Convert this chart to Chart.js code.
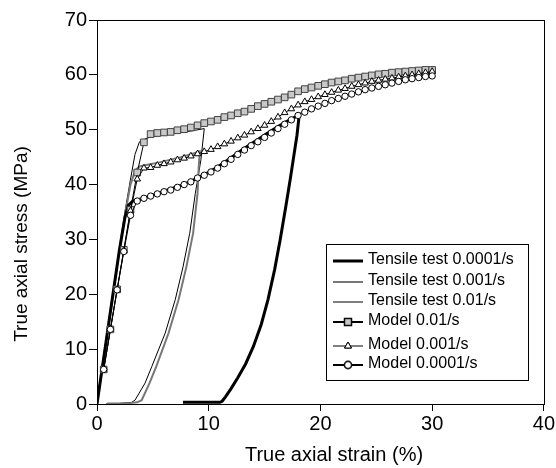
<!DOCTYPE html>
<html>
<head>
<meta charset="utf-8">
<script src="https://cdn.jsdelivr.net/npm/chart.js@4.4.1/dist/chart.umd.min.js"></script>
<style>
html, body { margin: 0; padding: 0; background: #fff; }
</style>
</head>
<body>
<canvas id="stressChart" width="556" height="468"></canvas>
<script>
// Model curves (markers every 0.6 % strain)
var modelStrain = [
  0.6, 1.2, 1.8, 2.4, 3.0, 3.6, 4.2, 4.8, 5.4, 6.0,
  6.6, 7.2, 7.8, 8.4, 9.0, 9.6, 10.2, 10.8, 11.4, 12.0,
  12.6, 13.2, 13.8, 14.4, 15.0, 15.6, 16.2, 16.8, 17.4, 18.0,
  18.6, 19.2, 19.8, 20.4, 21.0, 21.6, 22.2, 22.8, 23.4, 24.0,
  24.6, 25.2, 25.8, 26.4, 27.0, 27.6, 28.2, 28.8, 29.4, 30.0
];
var model001Stress = [
  6.3, 13.6, 20.9, 28.1, 35.4, 42.2, 47.7, 49.2, 49.4, 49.5,
  49.6, 49.9, 50.1, 50.4, 50.8, 51.2, 51.5, 51.8, 52.3, 52.6,
  53.0, 53.3, 53.8, 54.3, 54.7, 55.1, 55.5, 55.9, 56.4, 57.0,
  57.4, 57.7, 58.0, 58.3, 58.6, 58.8, 59.0, 59.3, 59.5, 59.7,
  59.9, 60.1, 60.2, 60.4, 60.5, 60.6, 60.7, 60.8, 60.9, 60.9
];
var model0001Stress = [
  6.3, 13.6, 20.8, 28.0, 35.2, 41.0, 43.0, 43.1, 43.5, 43.8,
  44.1, 44.5, 44.8, 45.2, 45.6, 46.0, 46.4, 46.9, 47.4, 47.9,
  48.5, 49.0, 49.6, 50.2, 50.8, 51.5, 52.3, 53.1, 53.8, 54.5,
  55.1, 55.5, 56.0, 56.4, 56.8, 57.2, 57.5, 57.9, 58.2, 58.5,
  58.8, 59.0, 59.2, 59.4, 59.6, 59.8, 60.0, 60.2, 60.4, 60.6
];
var model00001Stress = [
  6.3, 13.6, 20.8, 27.8, 34.4, 37.0, 37.5, 37.9, 38.3, 38.7,
  39.0, 39.5, 40.0, 40.5, 41.2, 41.7, 42.3, 43.0, 43.8, 44.6,
  45.5, 46.3, 47.1, 47.8, 48.6, 49.4, 50.2, 51.0, 51.8, 52.6,
  53.2, 53.8, 54.3, 54.8, 55.3, 55.7, 56.1, 56.5, 56.9, 57.3,
  57.6, 57.9, 58.2, 58.5, 58.8, 59.1, 59.3, 59.5, 59.7, 59.8
];

// Tensile tests (load, unload, recovery at zero stress)
var test00001Strain = [0, 0.5, 1.0, 1.5, 2.0, 2.5, 2.8, 3.2, 3.6, 4.8, 6.0, 7.2, 8.4, 9.6, 10.8, 12.0, 13.2, 14.4, 15.6, 16.8, 18.1,
  17.9, 17.6, 17.3, 16.9, 16.4, 15.9, 15.3, 14.7, 14.0, 13.3, 12.6, 12.0, 11.5, 11.2, 11.0, 9.0, 7.7];
var test00001Stress = [0, 7.0, 14.0, 21.0, 28.0, 34.0, 36.2, 37.0, 37.2, 37.9, 38.8, 39.6, 40.6, 41.8, 43.2, 44.9, 46.6, 48.2, 49.8, 51.3, 52.7,
  49.0, 45.0, 41.0, 36.0, 30.0, 24.5, 19.0, 14.5, 10.5, 7.3, 4.8, 2.8, 1.3, 0.5, 0.3, 0.3, 0.3];

var test0001Strain = [0, 0.5, 1.0, 1.5, 2.0, 2.5, 3.0, 3.4, 3.8, 4.5, 5.5, 6.5, 7.5, 8.5, 9.2,
  9.1, 9.0, 8.6, 8.0, 7.3, 6.4, 5.3, 4.7, 4.0, 3.6, 3.0, 2.0, 0.9];
var test0001Stress = [0, 7.0, 14.0, 21.0, 28.0, 34.5, 40.0, 42.5, 43.3, 43.6, 44.0, 44.5, 45.0, 45.6, 46.1,
  43.0, 38.4, 31.1, 25.0, 19.0, 12.9, 6.8, 3.8, 0.7, 0.3, 0.2, 0.1, 0.1];

var test001Strain = [0, 0.5, 1.0, 1.5, 2.0, 2.5, 3.0, 3.4, 3.8, 4.5, 5.5, 6.5, 7.5, 8.5, 9.6,
  9.3, 8.8, 8.3, 7.7, 7.0, 6.1, 4.9, 4.3, 3.4, 3.1, 2.0, 0.8];
var test001Stress = [0, 7.0, 14.0, 21.0, 28.0, 35.0, 41.0, 45.5, 47.8, 48.5, 48.9, 49.2, 49.5, 49.8, 50.2,
  44.5, 38.4, 31.1, 25.0, 19.0, 12.9, 6.8, 3.8, 0.7, 0.3, 0.1, 0.0];

var xTicks = [0, 10, 20, 30, 40];
var yTicks = [0, 10, 20, 30, 40, 50, 60, 70];
var xTitle = "True axial strain (%)";
var yTitle = "True axial stress (MPa)";

function pts(xs, ys) {
  return xs.map(function (x, i) { return { x: x, y: ys[i] }; });
}

var legendItems = [
  { label: "Tensile test 0.0001/s", color: "#000", width: 3, marker: null, y: 261 },
  { label: "Tensile test 0.001/s", color: "#777", width: 2, marker: null, y: 282 },
  { label: "Tensile test 0.01/s", color: "#000", width: 1, marker: null, y: 302 },
  { label: "Model 0.01/s", color: "#000", width: 2, marker: "rect", fill: "#c8c8c8", y: 322 },
  { label: "Model 0.001/s", color: "#000", width: 1, marker: "triangle", fill: "#fff", y: 346 },
  { label: "Model 0.0001/s", color: "#000", width: 2, marker: "circle", fill: "#fff", y: 365 }
];

var extras = {
  id: "extras",
  afterDraw: function (chart) {
    var ctx = chart.ctx, a = chart.chartArea;
    ctx.save();
    // frame
    ctx.strokeStyle = "#000";
    ctx.lineWidth = 1;
    ctx.strokeRect(Math.round(a.left) + 0.5, Math.round(a.top) + 0.5, Math.round(a.right - a.left), Math.round(a.bottom - a.top));

    // axis titles
    ctx.fillStyle = "#000";
    ctx.textAlign = "center";
    ctx.textBaseline = "middle";
    ctx.font = "20px 'Liberation Sans', Arial, sans-serif";
    ctx.fillText(xTitle, 334, 455);
    ctx.save();
    ctx.translate(22, 244);
    ctx.rotate(-Math.PI / 2);
    ctx.font = "19px 'Liberation Sans', Arial, sans-serif";
    ctx.fillText(yTitle, 0, 0);
    ctx.restore();

    // legend
    ctx.fillStyle = "#fff";
    ctx.fillRect(327, 245, 202, 135);
    ctx.strokeStyle = "#000";
    ctx.lineWidth = 1;
    ctx.strokeRect(326.5, 244.5, 202, 136);
    ctx.font = "16px 'Liberation Sans', Arial, sans-serif";
    ctx.textAlign = "left";
    legendItems.forEach(function (it) {
      ctx.beginPath();
      ctx.strokeStyle = it.color;
      ctx.lineWidth = it.width;
      ctx.moveTo(333, it.y);
      ctx.lineTo(363, it.y);
      ctx.stroke();
      if (it.marker) {
        Chart.helpers.drawPoint(ctx, {
          pointStyle: it.marker,
          radius: it.marker === "rect" ? 4.6 : (it.marker === "triangle" ? 4 : 3.4),
          borderWidth: 1
        }, 348, it.y);
        ctx.fillStyle = it.fill;
        ctx.strokeStyle = "#000";
        ctx.lineWidth = 1;
        ctx.fill();
        ctx.stroke();
      }
      ctx.fillStyle = "#000";
      ctx.fillText(it.label, 368, it.y - 1);
    });
    ctx.restore();
  }
};

var tickFont = { family: "'Liberation Sans', Arial, sans-serif", size: 20 };

new Chart("stressChart", {
  type: "scatter",
  data: {
    datasets: [
      { label: "Tensile test 0.0001/s", data: pts(test00001Strain, test00001Stress), showLine: true,
        borderColor: "#000", borderWidth: 3, pointRadius: 0, order: 4 },
      { label: "Tensile test 0.001/s", data: pts(test0001Strain, test0001Stress), showLine: true,
        borderColor: "#777", borderWidth: 2, pointRadius: 0, order: 5 },
      { label: "Tensile test 0.01/s", data: pts(test001Strain, test001Stress), showLine: true,
        borderColor: "#000", borderWidth: 1, pointRadius: 0, order: 6 },
      { label: "Model 0.0001/s", data: pts(modelStrain, model00001Stress), showLine: true,
        borderColor: "#000", borderWidth: 1, pointStyle: "circle", pointRadius: 3.2,
        pointBackgroundColor: "#fff", pointBorderColor: "#000", pointBorderWidth: 1, order: 1 },
      { label: "Model 0.001/s", data: pts(modelStrain, model0001Stress), showLine: true,
        borderColor: "#000", borderWidth: 1, pointStyle: "triangle", pointRadius: 3.8,
        pointBackgroundColor: "#fff", pointBorderColor: "#000", pointBorderWidth: 1, order: 2 },
      { label: "Model 0.01/s", data: pts(modelStrain, model001Stress), showLine: true,
        borderColor: "#000", borderWidth: 1, pointStyle: "rect", pointRadius: 4.7,
        pointBackgroundColor: "#c8c8c8", pointBorderColor: "#444", pointBorderWidth: 1, order: 3 }
    ]
  },
  options: {
    responsive: false,
    animation: false,
    layout: { padding: { top: 20, right: 12, left: 0, bottom: 0 } },
    plugins: { legend: { display: false }, tooltip: { enabled: false } },
    scales: {
      x: {
        type: "linear", min: 0, max: 40,
        afterFit: function (s) { s.height = 64; },
        afterBuildTicks: function (s) { s.ticks = xTicks.map(function (v) { return { value: v }; }); },
        grid: { drawOnChartArea: false, drawTicks: true, tickLength: 7, color: "#000" },
        border: { display: true, color: "#000", width: 1 },
        ticks: { color: "#000", font: tickFont, padding: 1, maxRotation: 0 },
        title: { display: false, text: xTitle }
      },
      y: {
        type: "linear", min: 0, max: 70,
        afterFit: function (s) { s.width = 97; },
        afterBuildTicks: function (s) { s.ticks = yTicks.map(function (v) { return { value: v }; }); },
        grid: { drawOnChartArea: false, drawTicks: true, tickLength: 8, color: "#000" },
        border: { display: true, color: "#000", width: 1 },
        ticks: { color: "#000", font: tickFont, padding: 2 },
        title: { display: false, text: yTitle }
      }
    }
  },
  plugins: [extras]
});
</script>
</body>
</html>
